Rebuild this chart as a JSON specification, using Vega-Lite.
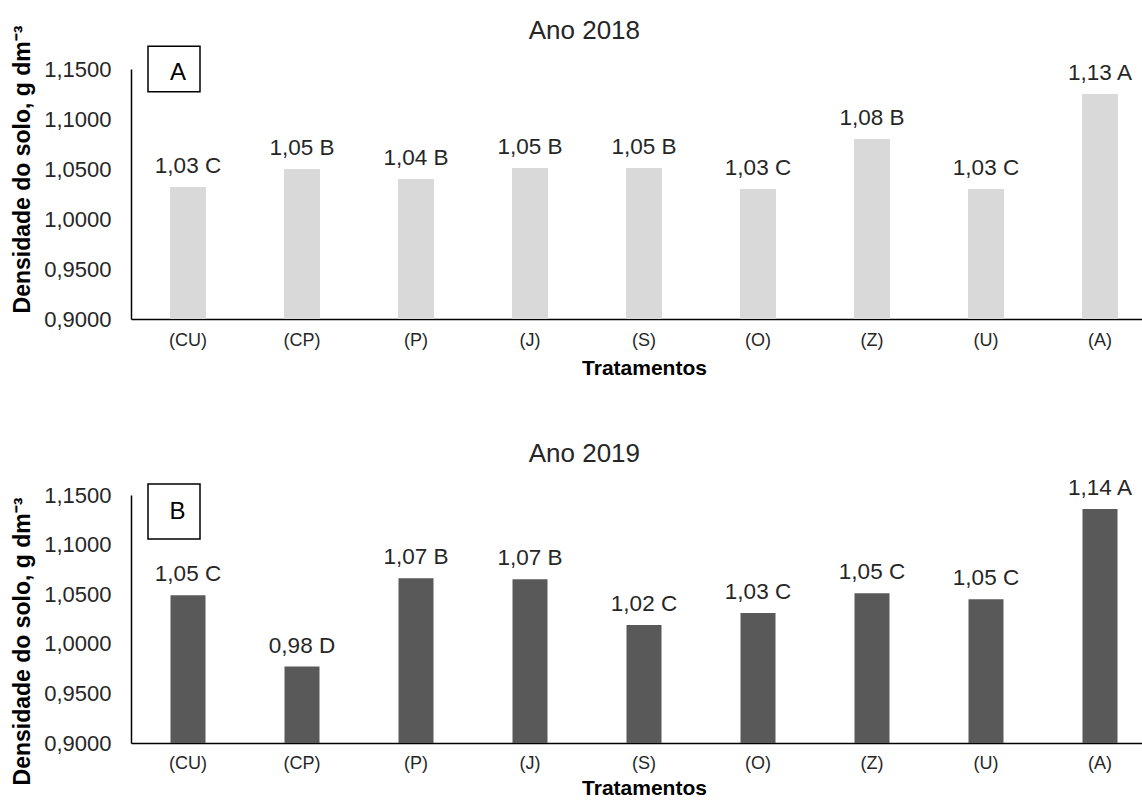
{
  "$schema": "https://vega.github.io/schema/vega-lite/v6.json",
  "padding": {"left": 11, "top": 18, "right": 0, "bottom": 0},
  "background": "white",
  "spacing": 62,
  "config": {
    "font": "Liberation Sans",
    "view": {"stroke": null},
    "title": {"fontSize": 26, "fontWeight": "normal", "color": "#262626", "anchor": "middle", "frame": "bounds", "baseline": "alphabetic"},
    "axis": {"grid": false, "ticks": false, "tickSize": 0, "domainColor": "#000000", "domainWidth": 1.5, "labelColor": "#262626", "titleColor": "#000000", "titleFontWeight": "bold", "labelFont": "Liberation Sans", "titleFont": "Liberation Sans"},
    "axisX": {"labelFontSize": 18, "labelPadding": 12, "titleFontSize": 21, "titlePadding": 8, "labelAngle": 0},
    "axisY": {"labelFontSize": 22, "labelPadding": 20, "titleFontSize": 23, "titlePadding": 9}
  },
  "datasets": {
    "d2018": [
      {"trat": "(CU)", "dens": 1.032, "label": "1,03 C"},
      {"trat": "(CP)", "dens": 1.050, "label": "1,05 B"},
      {"trat": "(P)", "dens": 1.040, "label": "1,04 B"},
      {"trat": "(J)", "dens": 1.051, "label": "1,05 B"},
      {"trat": "(S)", "dens": 1.051, "label": "1,05 B"},
      {"trat": "(O)", "dens": 1.030, "label": "1,03 C"},
      {"trat": "(Z)", "dens": 1.080, "label": "1,08 B"},
      {"trat": "(U)", "dens": 1.030, "label": "1,03 C"},
      {"trat": "(A)", "dens": 1.125, "label": "1,13 A"}
    ],
    "d2019": [
      {"trat": "(CU)", "dens": 1.049, "label": "1,05 C"},
      {"trat": "(CP)", "dens": 0.977, "label": "0,98 D"},
      {"trat": "(P)", "dens": 1.066, "label": "1,07 B"},
      {"trat": "(J)", "dens": 1.065, "label": "1,07 B"},
      {"trat": "(S)", "dens": 1.019, "label": "1,02 C"},
      {"trat": "(O)", "dens": 1.031, "label": "1,03 C"},
      {"trat": "(Z)", "dens": 1.051, "label": "1,05 C"},
      {"trat": "(U)", "dens": 1.045, "label": "1,05 C"},
      {"trat": "(A)", "dens": 1.136, "label": "1,14 A"}
    ],
    "tagA": [{"trat": "(CU)", "dens": 1.15, "letter": "A"}],
    "tagB": [{"trat": "(CU)", "dens": 1.15, "letter": "B"}]
  },
  "vconcat": [
    {
      "width": 1026,
      "height": 250,
      "title": {"text": "Ano 2018", "offset": -19},
      "encoding": {
        "x": {"field": "trat", "type": "nominal", "sort": ["(CU)", "(CP)", "(P)", "(J)", "(S)", "(O)", "(Z)", "(U)", "(A)"], "scale": {"paddingInner": 0, "paddingOuter": 0}, "title": "Tratamentos"},
        "y": {"field": "dens", "type": "quantitative", "scale": {"domain": [0.9, 1.15], "zero": false, "nice": false},
              "axis": {"values": [0.9, 0.95, 1.0, 1.05, 1.1, 1.15], "labelExpr": "replace(format(datum.value, '.4f'), '.', ',')", "titleY": 100},
              "title": "Densidade do solo, g dm⁻³"}
      },
      "layer": [
        {"data": {"name": "d2018"}, "mark": {"type": "bar", "size": 36, "color": "#d9d9d9"}, "encoding": {"y2": {"datum": 0.9}}},
        {"data": {"name": "d2018"}, "mark": {"type": "text", "fontSize": 22.5, "color": "#262626", "baseline": "alphabetic", "dy": -14}, "encoding": {"text": {"field": "label"}}},
        {"data": {"name": "tagA"}, "mark": {"type": "point", "shape": "M-1,-0.877L1,-0.877L1,0.877L-1,0.877Z", "size": 2704, "filled": false, "fill": "white", "fillOpacity": 1, "stroke": "black", "strokeWidth": 1.5, "opacity": 1, "xOffset": -14, "yOffset": 0}},
        {"data": {"name": "tagA"}, "mark": {"type": "text", "fontSize": 24, "color": "#000000", "baseline": "middle", "xOffset": -10, "yOffset": 4}, "encoding": {"text": {"field": "letter"}}}
      ]
    },
    {
      "width": 1026,
      "height": 248,
      "title": {"text": "Ano 2019", "offset": 10},
      "encoding": {
        "x": {"field": "trat", "type": "nominal", "sort": ["(CU)", "(CP)", "(P)", "(J)", "(S)", "(O)", "(Z)", "(U)", "(A)"], "scale": {"paddingInner": 0, "paddingOuter": 0}, "title": "Tratamentos", "axis": {"titlePadding": 5, "labelPadding": 11}},
        "y": {"field": "dens", "type": "quantitative", "scale": {"domain": [0.9, 1.15], "zero": false, "nice": false},
              "axis": {"values": [0.9, 0.95, 1.0, 1.05, 1.1, 1.15], "labelExpr": "replace(format(datum.value, '.4f'), '.', ',')", "titleY": 146},
              "title": "Densidade do solo, g dm⁻³"}
      },
      "layer": [
        {"data": {"name": "d2019"}, "mark": {"type": "bar", "size": 35, "color": "#595959"}, "encoding": {"y2": {"datum": 0.9}}},
        {"data": {"name": "d2019"}, "mark": {"type": "text", "fontSize": 22.5, "color": "#262626", "baseline": "alphabetic", "dy": -14}, "encoding": {"text": {"field": "label"}}},
        {"data": {"name": "tagB"}, "mark": {"type": "point", "shape": "M-1,-1.058L1,-1.058L1,1.058L-1,1.058Z", "size": 2704, "filled": false, "fill": "white", "fillOpacity": 1, "stroke": "black", "strokeWidth": 1.5, "opacity": 1, "xOffset": -14, "yOffset": 16.5}},
        {"data": {"name": "tagB"}, "mark": {"type": "text", "fontSize": 24, "color": "#000000", "baseline": "middle", "xOffset": -10.5, "yOffset": 17}, "encoding": {"text": {"field": "letter"}}}
      ]
    }
  ]
}
